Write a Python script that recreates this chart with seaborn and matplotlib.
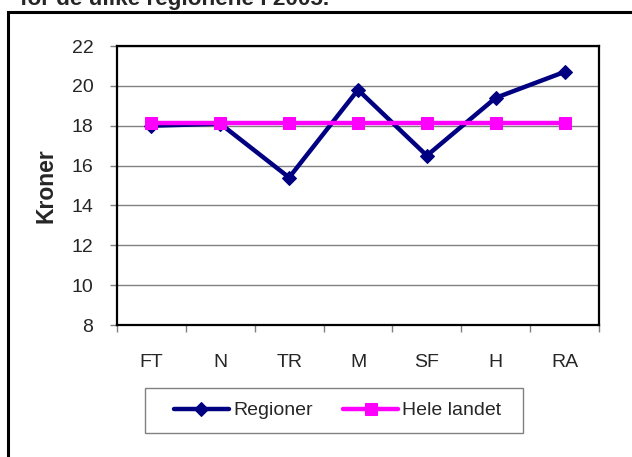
import matplotlib
matplotlib.use("Agg")
import matplotlib.pyplot as plt
import seaborn as sns
import pandas as pd
from matplotlib.patches import Rectangle
from matplotlib.ticker import FixedLocator, NullFormatter

categories = ["FT", "N", "TR", "M", "SF", "H", "RA"]
regioner = [18.0, 18.1, 15.4, 19.8, 16.5, 19.4, 20.7]
hele_landet = [18.15, 18.15, 18.15, 18.15, 18.15, 18.15, 18.15]
y_ticks = [8, 10, 12, 14, 16, 18, 20, 22]
title_text = "for de ulike regionene i 2005."
y_label = "Kroner"

sns.set_style("white")
plt.rcParams["font.family"] = ["Liberation Sans", "DejaVu Sans"]

df = pd.DataFrame({
    "pos": list(range(len(categories))) * 2,
    "value": regioner + hele_landet,
    "series": ["Regioner"] * len(categories) + ["Hele landet"] * len(categories),
})

W, H = 632, 457
fig = plt.figure(figsize=(W / 100, H / 100), dpi=100)
ax = fig.add_axes([117 / W, 1 - 325 / H, 482 / W, 279 / H])

sns.lineplot(data=df[df.series == "Regioner"], x="pos", y="value", ax=ax,
             color="#000080", linewidth=3.2, marker="D", markersize=7.5,
             markeredgecolor="#000080", label="Regioner", zorder=3)
sns.lineplot(data=df[df.series == "Hele landet"], x="pos", y="value", ax=ax,
             color="#FF00FF", linewidth=3.2, marker="s", markersize=9,
             markeredgecolor="#FF00FF", label="Hele landet", zorder=4)

ax.set_xlim(-0.5, len(categories) - 0.5)
ax.set_ylim(8, 22)
ax.set_yticks(y_ticks)
ax.yaxis.grid(True, color="#808080", linewidth=1.0)
ax.set_axisbelow(True)

ax.xaxis.set_major_locator(FixedLocator([i - 0.5 for i in range(len(categories) + 1)]))
ax.xaxis.set_major_formatter(NullFormatter())
ax.xaxis.set_minor_locator(FixedLocator(list(range(len(categories)))))
ax.set_xticklabels(categories, minor=True)
ax.tick_params(axis="x", which="major", direction="out", length=5, width=1, color="#808080", bottom=True)
ax.tick_params(axis="x", which="minor", length=0, pad=21, labelsize=14, bottom=True)
ax.tick_params(axis="y", direction="out", length=5, width=1, color="#808080", pad=12, labelsize=14, left=True)

for s in ax.spines.values():
    s.set_color("black")
    s.set_linewidth(1.6)

ax.set_xlabel("")
ax.set_ylabel(y_label, fontsize=16.5, fontweight="bold")
ax.yaxis.set_label_coords((58 - 117) / 482, 0.5)

ax.get_legend().remove()
handles, labels = ax.get_legend_handles_labels()
leg = fig.legend(handles, labels, loc="center", ncol=2,
                 bbox_to_anchor=(337.5 / W, 1 - 410.5 / H),
                 fontsize=14, frameon=False, handlelength=2.85, handletextpad=0.2,
                 columnspacing=1.55, borderpad=0, borderaxespad=0)

fig.patches.append(Rectangle((145 / W, 1 - 433 / H), (523 - 145) / W, 45 / H,
                             transform=fig.transFigure, fill=False,
                             edgecolor="#808080", linewidth=1.0, zorder=1))
fig.patches.append(Rectangle((8 / W, -0.1), 1.2, 1.1 - 12 / H, transform=fig.transFigure,
                             fill=False, edgecolor="black", linewidth=2.2, zorder=0))
fig.text(20 / W, 1 - 5 / H, title_text, fontsize=16.2, fontweight="bold",
         ha="left", va="baseline")

fig.savefig("out.png", dpi=100)
